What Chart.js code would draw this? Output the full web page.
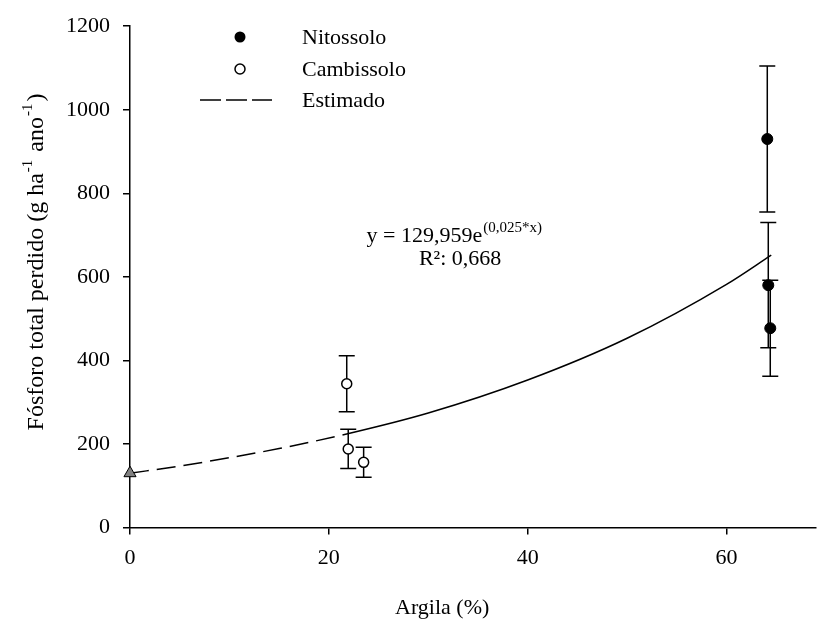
<!DOCTYPE html>
<html>
<head>
<meta charset="utf-8">
<script src="https://cdn.jsdelivr.net/npm/chart.js@4.4.1/dist/chart.umd.min.js"></script>
<style>
  html, body { margin: 0; padding: 0; background: #fff; }
  #wrap { width: 824px; height: 621px; }
</style>
</head>
<body>
<div id="wrap"><canvas id="chart"></canvas></div>
<script>
// Argila (%) vs. total phosphorus lost, two soils + fitted curve
const xTicks = [0, 20, 40, 60];
const yTicks = [0, 200, 400, 600, 800, 1000, 1200];

const nitoX = [64.1, 64.2, 64.4];
const nitoY = [930, 580, 477];
const nitoErr = [175, 150, 115];

const cambiX = [21.8, 21.95, 23.5];
const cambiY = [344, 188, 156];
const cambiErr = [67, 47, 36];

// estimated curve
const estX = [0, 5, 10, 15, 22, 30, 40, 50, 60, 64.5];
const estY = [130, 147, 167, 189, 225, 274, 353, 453, 582, 652];
const dashUntil = 22;

const interceptX = [0];
const interceptY = [130];

const FONT = "'Liberation Serif', 'Times New Roman', serif";

const toPts = (xs, ys) => xs.map((x, i) => ({ x: x, y: ys[i] }));

// vertical error bars with caps, drawn under the markers
const errorBars = {
  id: 'errorBars',
  beforeDatasetsDraw(chart) {
    const { ctx, scales: { x, y } } = chart;
    const groups = [[nitoX, nitoY, nitoErr], [cambiX, cambiY, cambiErr]];
    ctx.save();
    ctx.strokeStyle = '#000';
    ctx.lineWidth = 1.5;
    groups.forEach(([xs, ys, es]) => {
      xs.forEach((xv, i) => {
        const px = x.getPixelForValue(xv);
        const top = y.getPixelForValue(ys[i] + es[i]);
        const bot = y.getPixelForValue(ys[i] - es[i]);
        ctx.beginPath();
        ctx.moveTo(px, top); ctx.lineTo(px, bot);
        ctx.moveTo(px - 8, top); ctx.lineTo(px + 8, top);
        ctx.moveTo(px - 8, bot); ctx.lineTo(px + 8, bot);
        ctx.stroke();
      });
    });
    ctx.restore();
  }
};

// axis titles, legend and equation
const labels = {
  id: 'labels',
  afterDraw(chart) {
    const { ctx, scales: { x, y } } = chart;
    ctx.save();
    ctx.fillStyle = '#000';
    ctx.textBaseline = 'alphabetic';

    // x title
    ctx.font = '22px ' + FONT;
    ctx.textAlign = 'center';
    ctx.fillText('Argila (%)', x.getPixelForValue(31.4), 614);

    // y title with superscripts
    ctx.save();
    ctx.translate(43, 262);
    ctx.rotate(-Math.PI / 2);
    const parts = [
      ['Fósforo total perdido (g ha', 0],
      ['-1', 1],
      [' ano', 0],
      ['-1', 1],
      [')', 0]
    ];
    const big = '24px ' + FONT, small = '15px ' + FONT;
    let w = 0;
    parts.forEach(([t, s]) => { ctx.font = s ? small : big; w += ctx.measureText(t).width + (s ? 3 : 0); });
    let cx = -w / 2;
    ctx.textAlign = 'left';
    parts.forEach(([t, s]) => {
      ctx.font = s ? small : big;
      ctx.fillText(t, cx + (s ? 1 : 0), s ? -11 : 0);
      cx += ctx.measureText(t).width + (s ? 3 : 0);
    });
    ctx.restore();

    // legend
    ctx.font = '22px ' + FONT;
    ctx.textAlign = 'left';
    ctx.textBaseline = 'middle';
    ctx.lineWidth = 1.5;
    ctx.strokeStyle = '#000';
    ctx.beginPath(); ctx.arc(240, 37, 5.5, 0, Math.PI * 2); ctx.fill();
    ctx.fillText('Nitossolo', 302, 38);
    ctx.beginPath(); ctx.arc(240, 69, 5, 0, Math.PI * 2);
    ctx.fillStyle = '#fff'; ctx.fill(); ctx.stroke();
    ctx.fillStyle = '#000';
    ctx.fillText('Cambissolo', 302, 70);
    ctx.setLineDash([21, 5]);
    ctx.beginPath(); ctx.moveTo(200, 100); ctx.lineTo(272, 100); ctx.stroke();
    ctx.setLineDash([]);
    ctx.fillText('Estimado', 302, 101);

    // equation
    ctx.textBaseline = 'alphabetic';
    const ex = x.getPixelForValue(23.8), ey = y.getPixelForValue(683);
    ctx.font = '22px ' + FONT;
    const main = 'y = 129,959e';
    ctx.fillText(main, ex, ey);
    const mw = ctx.measureText(main).width;
    ctx.font = '15px ' + FONT;
    ctx.fillText('(0,025*x)', ex + mw + 1, ey - 10);
    ctx.font = '22px ' + FONT;
    ctx.textAlign = 'center';
    ctx.fillText('R²: 0,668', x.getPixelForValue(33.2), y.getPixelForValue(629));
    ctx.restore();
  }
};

const axisStyle = {
  border: { display: true, color: '#000', width: 1.5 },
  grid: { drawOnChartArea: false, drawTicks: true, tickLength: 7, color: '#000', lineWidth: 1.5 }
};

new Chart(document.getElementById('chart'), {
  type: 'scatter',
  data: {
    datasets: [
      {
        label: 'Nitossolo',
        data: toPts(nitoX, nitoY),
        pointRadius: 5.5,
        pointBackgroundColor: '#000',
        pointBorderColor: '#000',
        pointBorderWidth: 1,
        order: 0
      },
      {
        label: 'Cambissolo',
        data: toPts(cambiX, cambiY),
        pointRadius: 5,
        pointBackgroundColor: '#fff',
        pointBorderColor: '#000',
        pointBorderWidth: 1.5,
        order: 0
      },
      {
        label: 'Intercepto',
        data: toPts(interceptX, interceptY),
        pointStyle: 'triangle',
        pointRadius: 7,
        pointBackgroundColor: '#808080',
        pointBorderColor: '#000',
        pointBorderWidth: 1,
        order: 0
      },
      {
        label: 'Estimado',
        data: toPts(estX, estY),
        showLine: true,
        pointRadius: 0,
        borderColor: '#000',
        borderWidth: 1.5,
        cubicInterpolationMode: 'monotone',
        segment: {
          borderDash: ctx => ctx.p1.parsed.x <= dashUntil ? [19, 8] : undefined
        },
        order: 1
      }
    ]
  },
  options: {
    responsive: true,
    maintainAspectRatio: false,
    animation: false,
    layout: { padding: { top: 22, right: 0, bottom: 0, left: 0 } },
    plugins: {
      legend: { display: false },
      tooltip: { enabled: false }
    },
    elements: { point: { hoverRadius: 0 } },
    datasets: { scatter: { clip: false } },
    scales: {
      x: {
        type: 'linear',
        min: 0,
        max: 69,
        afterBuildTicks: (s) => { s.ticks = xTicks.map(v => ({ value: v })); },
        afterFit: (s) => { s.height = 93.5; },
        ...axisStyle,
        ticks: { color: '#000', padding: 11, font: { family: FONT, size: 22 }, callback: v => String(v) }
      },
      y: {
        type: 'linear',
        min: 0,
        max: 1200,
        afterBuildTicks: (s) => { s.ticks = yTicks.map(v => ({ value: v })); },
        afterFit: (s) => { s.width = 130; },
        ...axisStyle,
        ticks: { color: '#000', padding: 13, font: { family: FONT, size: 22 }, callback: v => String(v) }
      }
    }
  },
  plugins: [errorBars, labels]
});
</script>
</body>
</html>
